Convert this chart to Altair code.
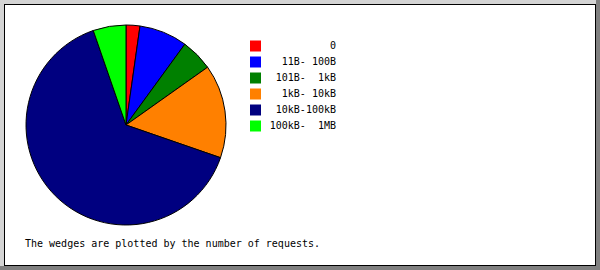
import altair as alt
import pandas as pd

# Transfer-size buckets and their share of requests (percent)
categories = ["0", "11B- 100B", "101B-  1kB", "1kB- 10kB", "10kB-100kB", "100kB-  1MB"]
shares = [2.24, 7.78, 5.17, 15.11, 64.39, 5.31]
colors = ["#ff0000", "#0000ff", "#008000", "#ff8000", "#000080", "#00ff00"]
footer = "The wedges are plotted by the number of requests."

W, H = 600, 270
MONO = "DejaVu Sans Mono"

df = pd.DataFrame({
    "idx": list(range(len(categories))),
    "bucket": categories,
    # non-breaking spaces keep the column alignment of the labels
    "label": [c.replace(" ", "\u00a0") for c in categories],
    "share": shares,
})

one = alt.Data(values=[{}])


def box(x1, x2, y1, y2, fill):
    return alt.Chart(one).mark_rect(fill=fill, stroke=None).encode(
        x=alt.value(x1), x2=alt.value(x2), y=alt.value(y1), y2=alt.value(y2)
    )


# bevelled frame
frame = [
    box(0, W, 0, H, "#808080"),
    box(0, W - 4, 0, 4, "#d4d4d4"),
    box(0, 4, 0, H - 4, "#d4d4d4"),
    box(4, W - 4, 4, H - 4, "#000000"),
    box(5, W - 5, 5, H - 5, "#ffffff"),
]

color_scale = alt.Scale(domain=categories, range=colors)

pie = alt.Chart(df).mark_arc(radius=100, stroke="black", strokeWidth=1).encode(
    theta=alt.Theta("share:Q", stack=True),
    color=alt.Color("bucket:N", scale=color_scale, legend=None),
    order=alt.Order("idx:Q"),
    x=alt.value(126),
    y=alt.value(125),
)

row_y = alt.Y("idx:Q", scale=alt.Scale(domain=[0, 5], range=[46, 126]), axis=None)

swatches = alt.Chart(df).mark_square(size=121, opacity=1).encode(
    x=alt.value(255.5),
    y=row_y,
    color=alt.Color("bucket:N", scale=color_scale, legend=None),
)

labels = alt.Chart(df).mark_text(
    align="right", baseline="middle", font=MONO, fontSize=10, color="black"
).encode(x=alt.value(336), y=row_y, text="label:N")

note = alt.Chart(one).mark_text(
    align="left", baseline="middle", font=MONO, fontSize=10, color="black"
).encode(x=alt.value(25), y=alt.value(244), text=alt.value(footer))

chart = alt.layer(*frame, pie, swatches, labels, note).properties(
    width=W, height=H, padding=0, autosize=alt.AutoSizeParams(type="none"),
    background="white",
).configure_view(stroke=None)

chart.save("out.html", embed_options={"renderer": "svg", "actions": False})
